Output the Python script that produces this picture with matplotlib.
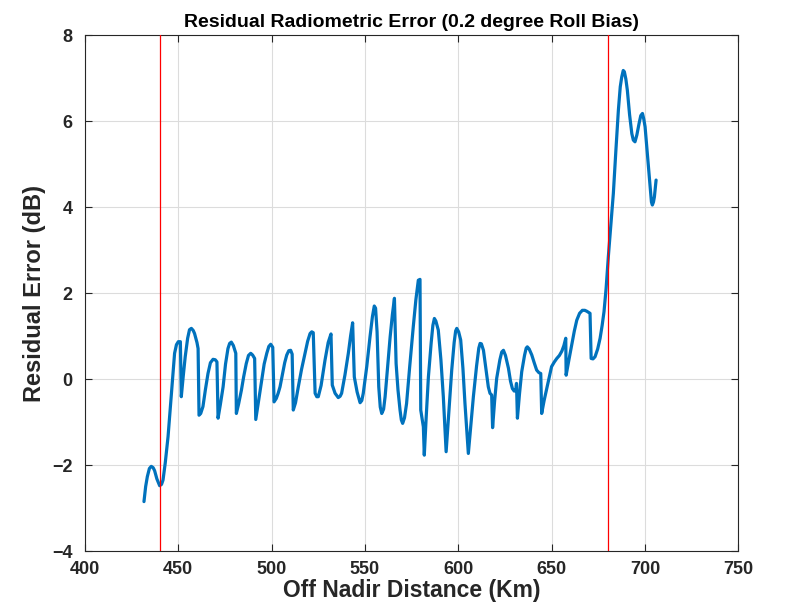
import matplotlib
matplotlib.use("Agg")
import matplotlib.pyplot as plt

plt.rcParams['font.family'] = ['Liberation Sans', 'DejaVu Sans']

distance_km = [
    431.6, 432.5, 433.4, 434.5, 435.5, 436.5, 437.3, 438.5, 440.0, 441.0,
    441.8, 443.0, 444.5, 446.3, 447.3, 448.0, 449.0, 450.0, 451.1, 451.6,
    452.6, 453.7, 455.0, 456.0, 457.0, 458.0, 458.7, 460.0, 460.6, 461.1,
    462.0, 463.2, 464.5, 465.9, 467.2, 468.6, 469.8, 470.7, 471.3, 472.5,
    474.0, 475.3, 476.6, 477.5, 478.4, 479.5, 480.8, 481.1, 482.3, 483.8,
    485.0, 486.4, 487.6, 488.8, 489.8, 490.9, 491.5, 492.5, 493.5, 494.7,
    496.0, 497.4, 498.5, 499.5, 500.6, 501.3, 502.5, 503.5, 504.5, 506.0,
    507.0, 508.1, 509.2, 510.2, 511.0, 511.6, 512.8, 514.3, 516.0, 517.9,
    519.3, 520.6, 521.5, 522.3, 523.3, 524.2, 525.0, 526.5, 528.6, 530.3,
    531.8, 532.5, 534.0, 535.7, 536.7, 537.5, 539.3, 541.1, 542.3, 543.4,
    544.3, 545.8, 547.4, 548.3, 549.1, 551.0, 552.7, 554.0, 555.0, 555.7,
    556.5, 557.4, 558.2, 559.0, 560.0, 560.8, 562.2, 563.5, 564.7, 565.8,
    566.7, 567.7, 568.8, 569.5, 570.2, 571.2, 572.3, 574.0, 575.9, 577.3,
    578.6, 579.5, 579.9, 581.3, 581.8, 582.8, 584.0, 585.5, 586.4, 587.2,
    588.0, 589.3, 590.7, 592.0, 593.5, 595.0, 596.5, 597.8, 598.6, 599.2,
    600.2, 601.3, 602.5, 603.6, 605.4, 606.7, 608.1, 609.8, 611.0, 611.7,
    612.4, 613.5, 614.8, 616.1, 617.0, 617.9, 618.4, 619.5, 620.6, 622.3,
    623.3, 624.2, 625.3, 626.9, 628.0, 629.0, 630.0, 630.8, 631.2, 631.7,
    632.8, 634.0, 635.5, 636.4, 637.0, 638.0, 639.4, 640.7, 642.0, 643.2,
    644.2, 644.7, 646.0, 647.4, 648.7, 650.0, 651.5, 652.8, 654.2, 655.5,
    656.6, 657.6, 657.8, 659.3, 660.8, 662.2, 663.5, 665.0, 666.5, 667.8,
    668.8, 670.6, 671.2, 672.2, 673.3, 674.7, 676.0, 677.1, 678.1, 679.2,
    680.4, 681.8, 683.1, 684.5, 685.8, 686.8, 687.6, 688.4, 689.0, 689.8,
    690.6, 691.8, 693.0, 693.8, 694.7, 695.7, 696.9, 697.8, 698.7, 699.4,
    700.1, 701.5, 702.8, 703.5, 704.0, 704.6, 705.1, 706.0,
]
residual_db = [
    -2.85, -2.50, -2.27, -2.08, -2.03, -2.06, -2.13, -2.32, -2.48, -2.45,
    -2.35, -1.95, -1.34, -0.33, 0.25, 0.60, 0.80, 0.87, 0.87, -0.41,
    0.05, 0.52, 0.95, 1.15, 1.18, 1.13, 1.06, 0.85, 0.71, -0.84,
    -0.80, -0.64, -0.25, 0.13, 0.38, 0.46, 0.45, 0.40, -0.91, -0.60,
    -0.18, 0.35, 0.71, 0.83, 0.86, 0.78, 0.60, -0.80, -0.58, -0.26,
    0.05, 0.36, 0.55, 0.60, 0.56, 0.48, -0.94, -0.65, -0.35, -0.02,
    0.35, 0.60, 0.76, 0.81, 0.74, -0.53, -0.45, -0.33, -0.18, 0.15,
    0.38, 0.56, 0.66, 0.67, 0.58, -0.72, -0.55, -0.18, 0.22, 0.60,
    0.88, 1.06, 1.10, 1.08, -0.33, -0.41, -0.41, -0.15, 0.44, 0.85,
    1.05, -0.14, -0.33, -0.43, -0.40, -0.33, 0.10, 0.60, 1.00, 1.31,
    0.05, -0.30, -0.55, -0.50, -0.33, 0.30, 0.98, 1.45, 1.70, 1.65,
    1.10, -0.18, -0.65, -0.80, -0.70, -0.41, 0.30, 0.98, 1.50, 1.88,
    0.36, -0.25, -0.72, -0.95, -1.03, -0.90, -0.57, 0.30, 1.22, 1.85,
    2.30, 2.32, -0.72, -1.11, -1.77, -0.90, 0.05, 0.85, 1.25, 1.41,
    1.35, 1.14, 0.45, -0.41, -1.69, -0.75, 0.21, 0.85, 1.12, 1.18,
    1.10, 0.91, 0.25, -0.57, -1.73, -1.10, -0.41, 0.30, 0.72, 0.83,
    0.82, 0.67, 0.25, -0.18, -0.33, -0.37, -1.13, -0.50, 0.02, 0.45,
    0.63, 0.67, 0.55, 0.25, -0.05, -0.22, -0.28, -0.26, -0.10, -0.91,
    -0.35, 0.17, 0.55, 0.72, 0.75, 0.70, 0.56, 0.38, 0.21, 0.15,
    0.13, -0.80, -0.50, -0.22, 0.05, 0.29, 0.40, 0.48, 0.55, 0.65,
    0.78, 0.95, 0.09, 0.45, 0.79, 1.12, 1.37, 1.53, 1.60, 1.60,
    1.58, 1.53, 0.48, 0.47, 0.52, 0.70, 0.95, 1.25, 1.57, 2.10,
    2.84, 3.60, 4.32, 5.35, 6.26, 6.80, 7.03, 7.18, 7.15, 6.98,
    6.72, 6.15, 5.71, 5.56, 5.52, 5.68, 5.95, 6.13, 6.18, 6.05,
    5.87, 5.15, 4.47, 4.12, 4.05, 4.12, 4.24, 4.63,
]
boundary_km = [440, 680]

x_ticks = [400, 450, 500, 550, 600, 650, 700, 750]
y_ticks = [-4, -2, 0, 2, 4, 6, 8]

fig = plt.figure(figsize=(7.87, 6.04), dpi=100)
ax = fig.add_axes([0.108, 0.0877, 0.830, 0.854])

ax.plot(distance_km, residual_db, color='#0072BD', linewidth=2.3, zorder=3,
        solid_joinstyle='round', solid_capstyle='round')
for b in boundary_km:
    ax.axvline(b, color='red', linewidth=0.9, zorder=4)

ax.set_xlim(400, 750)
ax.set_ylim(-4, 8)
ax.set_xticks(x_ticks)
ax.set_yticks(y_ticks)
ax.set_yticklabels([str(v).replace('-', '\u2212') for v in y_ticks])
ax.grid(True, color='#dcdcdc', linewidth=0.8)
ax.set_axisbelow(True)
ax.tick_params(direction='in', top=True, right=True, length=5, width=0.8,
               colors='#262626', labelsize=13)
ax.tick_params(axis='x', pad=7)
ax.tick_params(axis='y', pad=9)
for lab in ax.get_xticklabels() + ax.get_yticklabels():
    lab.set_fontweight('bold')
for s in ax.spines.values():
    s.set_color('#262626')
    s.set_linewidth(0.8)

ax.set_title('Residual Radiometric Error (0.2 degree Roll Bias)',
             fontsize=14, fontweight='bold', pad=6)
ax.set_xlabel('Off Nadir Distance (Km)', fontsize=16.5, fontweight='bold', color='#262626', labelpad=1)
ax.set_ylabel('Residual Error (dB)', fontsize=17, fontweight='bold', color='#262626', labelpad=4)

fig.savefig('out.png', dpi=100)
